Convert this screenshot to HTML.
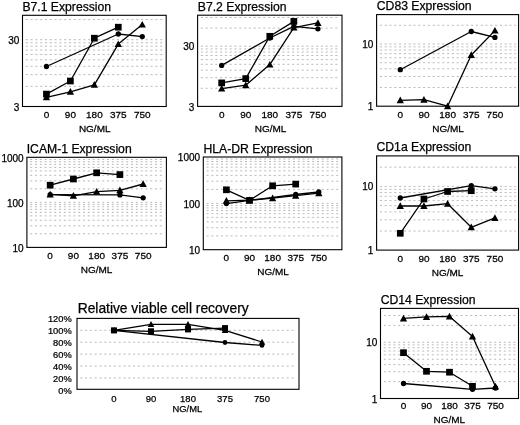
<!DOCTYPE html>
<html><head><meta charset="utf-8"><style>
html,body{margin:0;padding:0;background:#fff;width:520px;height:425px;overflow:hidden}
svg{display:block;filter:blur(0.35px)}
text{font-family:"Liberation Sans", sans-serif;fill:#000;stroke:#000;stroke-width:0.25px}
</style></head><body>
<svg width="520" height="425" viewBox="0 0 520 425">
<rect width="520" height="425" fill="#fff"/>
<line x1="25.80" y1="86.39" x2="163.70" y2="86.39" stroke="#b9b9b9" stroke-width="1.0" stroke-dasharray="2 2.8"/>
<line x1="25.80" y1="74.63" x2="163.70" y2="74.63" stroke="#b9b9b9" stroke-width="1.0" stroke-dasharray="2 2.8"/>
<line x1="25.80" y1="66.28" x2="163.70" y2="66.28" stroke="#b9b9b9" stroke-width="1.0" stroke-dasharray="2 2.8"/>
<line x1="25.80" y1="59.81" x2="163.70" y2="59.81" stroke="#b9b9b9" stroke-width="1.0" stroke-dasharray="2 2.8"/>
<line x1="25.80" y1="54.52" x2="163.70" y2="54.52" stroke="#b9b9b9" stroke-width="1.0" stroke-dasharray="2 2.8"/>
<line x1="25.80" y1="50.05" x2="163.70" y2="50.05" stroke="#b9b9b9" stroke-width="1.0" stroke-dasharray="2 2.8"/>
<line x1="25.80" y1="46.17" x2="163.70" y2="46.17" stroke="#b9b9b9" stroke-width="1.0" stroke-dasharray="2 2.8"/>
<line x1="25.80" y1="42.76" x2="163.70" y2="42.76" stroke="#b9b9b9" stroke-width="1.0" stroke-dasharray="2 2.8"/>
<line x1="25.80" y1="39.70" x2="163.70" y2="39.70" stroke="#b9b9b9" stroke-width="1.0" stroke-dasharray="2 2.8"/>
<line x1="25.80" y1="19.59" x2="163.70" y2="19.59" stroke="#b9b9b9" stroke-width="1.0" stroke-dasharray="2 2.8"/>
<rect x="22.50" y="15.30" width="143.70" height="91.20" fill="none" stroke="#000" stroke-width="1.1"/>
<text x="22.40" y="11.00" font-size="12.2" text-anchor="start">B7.1 Expression</text>
<text x="19.30" y="43.65" font-size="10" text-anchor="end">30</text>
<text x="19.30" y="110.85" font-size="10" text-anchor="end">3</text>
<text transform="translate(46.45 117.60) scale(1.02 1)" font-size="9.8" text-anchor="middle">0</text>
<text transform="translate(70.40 117.60) scale(1.02 1)" font-size="9.8" text-anchor="middle">90</text>
<text transform="translate(94.35 117.60) scale(1.02 1)" font-size="9.8" text-anchor="middle">180</text>
<text transform="translate(118.30 117.60) scale(1.02 1)" font-size="9.8" text-anchor="middle">375</text>
<text transform="translate(142.25 117.60) scale(1.02 1)" font-size="9.8" text-anchor="middle">750</text>
<text transform="translate(94.70 131.80) scale(1.03 1)" font-size="9.7" text-anchor="middle">NG/ML</text>
<polyline points="46.45,66.50 118.30,34.00 142.25,36.60" fill="none" stroke="#000" stroke-width="1.3" stroke-linejoin="round"/>
<polyline points="46.45,94.10 70.40,81.00 94.35,38.20 118.30,27.20" fill="none" stroke="#000" stroke-width="1.3" stroke-linejoin="round"/>
<polyline points="46.45,97.30 70.40,91.80 94.35,84.80 118.30,44.10 142.25,24.60" fill="none" stroke="#000" stroke-width="1.3" stroke-linejoin="round"/>
<circle cx="46.45" cy="66.50" r="2.65" fill="#000"/>
<circle cx="118.30" cy="34.00" r="2.65" fill="#000"/>
<circle cx="142.25" cy="36.60" r="2.65" fill="#000"/>
<rect x="43.10" y="90.75" width="6.70" height="6.70" fill="#000"/>
<rect x="67.05" y="77.65" width="6.70" height="6.70" fill="#000"/>
<rect x="91.00" y="34.85" width="6.70" height="6.70" fill="#000"/>
<rect x="114.95" y="23.85" width="6.70" height="6.70" fill="#000"/>
<polygon points="46.45,93.61 50.10,100.31 42.80,100.31" fill="#000"/>
<polygon points="70.40,88.11 74.05,94.81 66.75,94.81" fill="#000"/>
<polygon points="94.35,81.11 98.00,87.81 90.70,87.81" fill="#000"/>
<polygon points="118.30,40.41 121.95,47.12 114.65,47.12" fill="#000"/>
<polygon points="142.25,20.91 145.90,27.62 138.60,27.62" fill="#000"/>
<line x1="200.90" y1="88.28" x2="339.50" y2="88.28" stroke="#b9b9b9" stroke-width="1.0" stroke-dasharray="2 2.8"/>
<line x1="200.90" y1="77.68" x2="339.50" y2="77.68" stroke="#b9b9b9" stroke-width="1.0" stroke-dasharray="2 2.8"/>
<line x1="200.90" y1="70.16" x2="339.50" y2="70.16" stroke="#b9b9b9" stroke-width="1.0" stroke-dasharray="2 2.8"/>
<line x1="200.90" y1="64.32" x2="339.50" y2="64.32" stroke="#b9b9b9" stroke-width="1.0" stroke-dasharray="2 2.8"/>
<line x1="200.90" y1="59.56" x2="339.50" y2="59.56" stroke="#b9b9b9" stroke-width="1.0" stroke-dasharray="2 2.8"/>
<line x1="200.90" y1="55.53" x2="339.50" y2="55.53" stroke="#b9b9b9" stroke-width="1.0" stroke-dasharray="2 2.8"/>
<line x1="200.90" y1="52.03" x2="339.50" y2="52.03" stroke="#b9b9b9" stroke-width="1.0" stroke-dasharray="2 2.8"/>
<line x1="200.90" y1="48.95" x2="339.50" y2="48.95" stroke="#b9b9b9" stroke-width="1.0" stroke-dasharray="2 2.8"/>
<line x1="200.90" y1="46.20" x2="339.50" y2="46.20" stroke="#b9b9b9" stroke-width="1.0" stroke-dasharray="2 2.8"/>
<line x1="200.90" y1="28.08" x2="339.50" y2="28.08" stroke="#b9b9b9" stroke-width="1.0" stroke-dasharray="2 2.8"/>
<line x1="200.90" y1="17.48" x2="339.50" y2="17.48" stroke="#b9b9b9" stroke-width="1.0" stroke-dasharray="2 2.8"/>
<rect x="197.60" y="15.20" width="144.40" height="91.20" fill="none" stroke="#000" stroke-width="1.1"/>
<text x="197.80" y="11.00" font-size="12.2" text-anchor="start">B7.2 Expression</text>
<text x="194.40" y="50.25" font-size="10" text-anchor="end">30</text>
<text x="194.40" y="110.85" font-size="10" text-anchor="end">3</text>
<text transform="translate(221.67 117.60) scale(1.02 1)" font-size="9.8" text-anchor="middle">0</text>
<text transform="translate(245.73 117.60) scale(1.02 1)" font-size="9.8" text-anchor="middle">90</text>
<text transform="translate(269.80 117.60) scale(1.02 1)" font-size="9.8" text-anchor="middle">180</text>
<text transform="translate(293.87 117.60) scale(1.02 1)" font-size="9.8" text-anchor="middle">375</text>
<text transform="translate(317.93 117.60) scale(1.02 1)" font-size="9.8" text-anchor="middle">750</text>
<text transform="translate(270.50 131.80) scale(1.03 1)" font-size="9.7" text-anchor="middle">NG/ML</text>
<polyline points="221.67,65.40 269.80,38.00 293.87,26.30 317.93,28.80" fill="none" stroke="#000" stroke-width="1.3" stroke-linejoin="round"/>
<polyline points="221.67,82.90 245.73,78.60 269.80,36.30 293.87,21.40" fill="none" stroke="#000" stroke-width="1.3" stroke-linejoin="round"/>
<polyline points="221.67,88.60 245.73,85.20 269.80,64.60 293.87,27.60 317.93,22.90" fill="none" stroke="#000" stroke-width="1.3" stroke-linejoin="round"/>
<circle cx="221.67" cy="65.40" r="2.65" fill="#000"/>
<circle cx="269.80" cy="38.00" r="2.65" fill="#000"/>
<circle cx="293.87" cy="26.30" r="2.65" fill="#000"/>
<circle cx="317.93" cy="28.80" r="2.65" fill="#000"/>
<rect x="218.32" y="79.55" width="6.70" height="6.70" fill="#000"/>
<rect x="242.38" y="75.25" width="6.70" height="6.70" fill="#000"/>
<rect x="266.45" y="32.95" width="6.70" height="6.70" fill="#000"/>
<rect x="290.52" y="18.05" width="6.70" height="6.70" fill="#000"/>
<polygon points="221.67,84.91 225.32,91.61 218.02,91.61" fill="#000"/>
<polygon points="245.73,81.52 249.38,88.22 242.08,88.22" fill="#000"/>
<polygon points="269.80,60.91 273.45,67.61 266.15,67.61" fill="#000"/>
<polygon points="293.87,23.91 297.52,30.62 290.22,30.62" fill="#000"/>
<polygon points="317.93,19.21 321.58,25.91 314.28,25.91" fill="#000"/>
<line x1="379.90" y1="87.48" x2="516.10" y2="87.48" stroke="#b9b9b9" stroke-width="1.0" stroke-dasharray="2 2.8"/>
<line x1="379.90" y1="76.52" x2="516.10" y2="76.52" stroke="#b9b9b9" stroke-width="1.0" stroke-dasharray="2 2.8"/>
<line x1="379.90" y1="68.75" x2="516.10" y2="68.75" stroke="#b9b9b9" stroke-width="1.0" stroke-dasharray="2 2.8"/>
<line x1="379.90" y1="62.72" x2="516.10" y2="62.72" stroke="#b9b9b9" stroke-width="1.0" stroke-dasharray="2 2.8"/>
<line x1="379.90" y1="57.80" x2="516.10" y2="57.80" stroke="#b9b9b9" stroke-width="1.0" stroke-dasharray="2 2.8"/>
<line x1="379.90" y1="53.63" x2="516.10" y2="53.63" stroke="#b9b9b9" stroke-width="1.0" stroke-dasharray="2 2.8"/>
<line x1="379.90" y1="50.03" x2="516.10" y2="50.03" stroke="#b9b9b9" stroke-width="1.0" stroke-dasharray="2 2.8"/>
<line x1="379.90" y1="46.85" x2="516.10" y2="46.85" stroke="#b9b9b9" stroke-width="1.0" stroke-dasharray="2 2.8"/>
<line x1="379.90" y1="44.00" x2="516.10" y2="44.00" stroke="#b9b9b9" stroke-width="1.0" stroke-dasharray="2 2.8"/>
<line x1="379.90" y1="25.28" x2="516.10" y2="25.28" stroke="#b9b9b9" stroke-width="1.0" stroke-dasharray="2 2.8"/>
<rect x="376.60" y="14.60" width="142.00" height="91.60" fill="none" stroke="#000" stroke-width="1.1"/>
<text x="376.80" y="10.00" font-size="12.2" text-anchor="start">CD83 Expression</text>
<text x="373.40" y="47.85" font-size="10" text-anchor="end">10</text>
<text x="373.40" y="110.25" font-size="10" text-anchor="end">1</text>
<text transform="translate(400.27 117.60) scale(1.02 1)" font-size="9.8" text-anchor="middle">0</text>
<text transform="translate(423.93 117.60) scale(1.02 1)" font-size="9.8" text-anchor="middle">90</text>
<text transform="translate(447.60 117.60) scale(1.02 1)" font-size="9.8" text-anchor="middle">180</text>
<text transform="translate(471.27 117.60) scale(1.02 1)" font-size="9.8" text-anchor="middle">375</text>
<text transform="translate(494.93 117.60) scale(1.02 1)" font-size="9.8" text-anchor="middle">750</text>
<text transform="translate(448.00 131.80) scale(1.03 1)" font-size="9.7" text-anchor="middle">NG/ML</text>
<polyline points="400.27,69.70 471.27,31.50 494.93,37.40" fill="none" stroke="#000" stroke-width="1.3" stroke-linejoin="round"/>
<polyline points="400.27,100.30 423.93,99.70 447.60,106.20 471.27,55.00 494.93,30.60" fill="none" stroke="#000" stroke-width="1.3" stroke-linejoin="round"/>
<circle cx="400.27" cy="69.70" r="2.65" fill="#000"/>
<circle cx="471.27" cy="31.50" r="2.65" fill="#000"/>
<circle cx="494.93" cy="37.40" r="2.65" fill="#000"/>
<polygon points="400.27,96.61 403.92,103.31 396.62,103.31" fill="#000"/>
<polygon points="423.93,96.02 427.58,102.72 420.28,102.72" fill="#000"/>
<polygon points="447.60,102.52 451.25,109.22 443.95,109.22" fill="#000"/>
<polygon points="471.27,51.31 474.92,58.02 467.62,58.02" fill="#000"/>
<polygon points="494.93,26.91 498.58,33.62 491.28,33.62" fill="#000"/>
<line x1="30.20" y1="233.77" x2="163.90" y2="233.77" stroke="#b9b9b9" stroke-width="1.0" stroke-dasharray="2 2.8"/>
<line x1="30.20" y1="225.85" x2="163.90" y2="225.85" stroke="#b9b9b9" stroke-width="1.0" stroke-dasharray="2 2.8"/>
<line x1="30.20" y1="220.24" x2="163.90" y2="220.24" stroke="#b9b9b9" stroke-width="1.0" stroke-dasharray="2 2.8"/>
<line x1="30.20" y1="215.88" x2="163.90" y2="215.88" stroke="#b9b9b9" stroke-width="1.0" stroke-dasharray="2 2.8"/>
<line x1="30.20" y1="212.32" x2="163.90" y2="212.32" stroke="#b9b9b9" stroke-width="1.0" stroke-dasharray="2 2.8"/>
<line x1="30.20" y1="209.31" x2="163.90" y2="209.31" stroke="#b9b9b9" stroke-width="1.0" stroke-dasharray="2 2.8"/>
<line x1="30.20" y1="206.71" x2="163.90" y2="206.71" stroke="#b9b9b9" stroke-width="1.0" stroke-dasharray="2 2.8"/>
<line x1="30.20" y1="204.41" x2="163.90" y2="204.41" stroke="#b9b9b9" stroke-width="1.0" stroke-dasharray="2 2.8"/>
<line x1="30.20" y1="202.35" x2="163.90" y2="202.35" stroke="#b9b9b9" stroke-width="1.0" stroke-dasharray="2 2.8"/>
<line x1="30.20" y1="188.82" x2="163.90" y2="188.82" stroke="#b9b9b9" stroke-width="1.0" stroke-dasharray="2 2.8"/>
<line x1="30.20" y1="180.90" x2="163.90" y2="180.90" stroke="#b9b9b9" stroke-width="1.0" stroke-dasharray="2 2.8"/>
<line x1="30.20" y1="175.29" x2="163.90" y2="175.29" stroke="#b9b9b9" stroke-width="1.0" stroke-dasharray="2 2.8"/>
<line x1="30.20" y1="170.93" x2="163.90" y2="170.93" stroke="#b9b9b9" stroke-width="1.0" stroke-dasharray="2 2.8"/>
<line x1="30.20" y1="167.37" x2="163.90" y2="167.37" stroke="#b9b9b9" stroke-width="1.0" stroke-dasharray="2 2.8"/>
<line x1="30.20" y1="164.36" x2="163.90" y2="164.36" stroke="#b9b9b9" stroke-width="1.0" stroke-dasharray="2 2.8"/>
<line x1="30.20" y1="161.76" x2="163.90" y2="161.76" stroke="#b9b9b9" stroke-width="1.0" stroke-dasharray="2 2.8"/>
<line x1="30.20" y1="159.46" x2="163.90" y2="159.46" stroke="#b9b9b9" stroke-width="1.0" stroke-dasharray="2 2.8"/>
<rect x="26.90" y="157.30" width="139.50" height="90.10" fill="none" stroke="#000" stroke-width="1.1"/>
<text x="26.70" y="153.00" font-size="12.2" text-anchor="start">ICAM-1 Expression</text>
<text x="23.70" y="162.35" font-size="10" text-anchor="end">1000</text>
<text x="23.70" y="207.05" font-size="10" text-anchor="end">100</text>
<text x="23.70" y="251.75" font-size="10" text-anchor="end">10</text>
<text transform="translate(50.15 259.30) scale(1.02 1)" font-size="9.8" text-anchor="middle">0</text>
<text transform="translate(73.40 259.30) scale(1.02 1)" font-size="9.8" text-anchor="middle">90</text>
<text transform="translate(96.65 259.30) scale(1.02 1)" font-size="9.8" text-anchor="middle">180</text>
<text transform="translate(119.90 259.30) scale(1.02 1)" font-size="9.8" text-anchor="middle">375</text>
<text transform="translate(143.15 259.30) scale(1.02 1)" font-size="9.8" text-anchor="middle">750</text>
<text transform="translate(96.60 272.80) scale(1.03 1)" font-size="9.7" text-anchor="middle">NG/ML</text>
<polyline points="50.15,194.60 119.90,194.90 143.15,197.80" fill="none" stroke="#000" stroke-width="1.3" stroke-linejoin="round"/>
<polyline points="50.15,185.20 73.40,179.00 96.65,172.80 119.90,174.60" fill="none" stroke="#000" stroke-width="1.3" stroke-linejoin="round"/>
<polyline points="50.15,194.40 73.40,195.80 96.65,191.60 119.90,190.30 143.15,184.00" fill="none" stroke="#000" stroke-width="1.3" stroke-linejoin="round"/>
<circle cx="50.15" cy="194.60" r="2.65" fill="#000"/>
<circle cx="119.90" cy="194.90" r="2.65" fill="#000"/>
<circle cx="143.15" cy="197.80" r="2.65" fill="#000"/>
<rect x="46.80" y="181.85" width="6.70" height="6.70" fill="#000"/>
<rect x="70.05" y="175.65" width="6.70" height="6.70" fill="#000"/>
<rect x="93.30" y="169.45" width="6.70" height="6.70" fill="#000"/>
<rect x="116.55" y="171.25" width="6.70" height="6.70" fill="#000"/>
<polygon points="50.15,190.72 53.80,197.41 46.50,197.41" fill="#000"/>
<polygon points="73.40,192.12 77.05,198.81 69.75,198.81" fill="#000"/>
<polygon points="96.65,187.91 100.30,194.61 93.00,194.61" fill="#000"/>
<polygon points="119.90,186.62 123.55,193.31 116.25,193.31" fill="#000"/>
<polygon points="143.15,180.31 146.80,187.01 139.50,187.01" fill="#000"/>
<line x1="206.60" y1="235.90" x2="339.40" y2="235.90" stroke="#b9b9b9" stroke-width="1.0" stroke-dasharray="2 2.8"/>
<line x1="206.60" y1="227.71" x2="339.40" y2="227.71" stroke="#b9b9b9" stroke-width="1.0" stroke-dasharray="2 2.8"/>
<line x1="206.60" y1="221.90" x2="339.40" y2="221.90" stroke="#b9b9b9" stroke-width="1.0" stroke-dasharray="2 2.8"/>
<line x1="206.60" y1="217.40" x2="339.40" y2="217.40" stroke="#b9b9b9" stroke-width="1.0" stroke-dasharray="2 2.8"/>
<line x1="206.60" y1="213.72" x2="339.40" y2="213.72" stroke="#b9b9b9" stroke-width="1.0" stroke-dasharray="2 2.8"/>
<line x1="206.60" y1="210.60" x2="339.40" y2="210.60" stroke="#b9b9b9" stroke-width="1.0" stroke-dasharray="2 2.8"/>
<line x1="206.60" y1="207.91" x2="339.40" y2="207.91" stroke="#b9b9b9" stroke-width="1.0" stroke-dasharray="2 2.8"/>
<line x1="206.60" y1="205.53" x2="339.40" y2="205.53" stroke="#b9b9b9" stroke-width="1.0" stroke-dasharray="2 2.8"/>
<line x1="206.60" y1="203.40" x2="339.40" y2="203.40" stroke="#b9b9b9" stroke-width="1.0" stroke-dasharray="2 2.8"/>
<line x1="206.60" y1="189.40" x2="339.40" y2="189.40" stroke="#b9b9b9" stroke-width="1.0" stroke-dasharray="2 2.8"/>
<line x1="206.60" y1="181.21" x2="339.40" y2="181.21" stroke="#b9b9b9" stroke-width="1.0" stroke-dasharray="2 2.8"/>
<line x1="206.60" y1="175.40" x2="339.40" y2="175.40" stroke="#b9b9b9" stroke-width="1.0" stroke-dasharray="2 2.8"/>
<line x1="206.60" y1="170.90" x2="339.40" y2="170.90" stroke="#b9b9b9" stroke-width="1.0" stroke-dasharray="2 2.8"/>
<line x1="206.60" y1="167.22" x2="339.40" y2="167.22" stroke="#b9b9b9" stroke-width="1.0" stroke-dasharray="2 2.8"/>
<line x1="206.60" y1="164.10" x2="339.40" y2="164.10" stroke="#b9b9b9" stroke-width="1.0" stroke-dasharray="2 2.8"/>
<line x1="206.60" y1="161.41" x2="339.40" y2="161.41" stroke="#b9b9b9" stroke-width="1.0" stroke-dasharray="2 2.8"/>
<line x1="206.60" y1="159.03" x2="339.40" y2="159.03" stroke="#b9b9b9" stroke-width="1.0" stroke-dasharray="2 2.8"/>
<rect x="203.30" y="157.00" width="138.60" height="92.70" fill="none" stroke="#000" stroke-width="1.1"/>
<text x="203.50" y="152.90" font-size="12.2" text-anchor="start">HLA-DR Expression</text>
<text x="200.10" y="161.45" font-size="10" text-anchor="end">1000</text>
<text x="200.10" y="207.65" font-size="10" text-anchor="end">100</text>
<text x="200.10" y="253.55" font-size="10" text-anchor="end">10</text>
<text transform="translate(226.40 261.00) scale(1.02 1)" font-size="9.8" text-anchor="middle">0</text>
<text transform="translate(249.50 261.00) scale(1.02 1)" font-size="9.8" text-anchor="middle">90</text>
<text transform="translate(272.60 261.00) scale(1.02 1)" font-size="9.8" text-anchor="middle">180</text>
<text transform="translate(295.70 261.00) scale(1.02 1)" font-size="9.8" text-anchor="middle">375</text>
<text transform="translate(318.80 261.00) scale(1.02 1)" font-size="9.8" text-anchor="middle">750</text>
<text transform="translate(273.00 274.50) scale(1.03 1)" font-size="9.7" text-anchor="middle">NG/ML</text>
<polyline points="226.40,203.60 249.50,200.40 295.70,194.50 318.80,192.00" fill="none" stroke="#000" stroke-width="1.3" stroke-linejoin="round"/>
<polyline points="226.40,189.80 249.50,200.40 272.60,185.80 295.70,184.10" fill="none" stroke="#000" stroke-width="1.3" stroke-linejoin="round"/>
<polyline points="226.40,200.80 249.50,200.20 272.60,198.20 295.70,195.70 318.80,193.20" fill="none" stroke="#000" stroke-width="1.3" stroke-linejoin="round"/>
<circle cx="226.40" cy="203.60" r="2.65" fill="#000"/>
<circle cx="249.50" cy="200.40" r="2.65" fill="#000"/>
<circle cx="295.70" cy="194.50" r="2.65" fill="#000"/>
<circle cx="318.80" cy="192.00" r="2.65" fill="#000"/>
<rect x="223.05" y="186.45" width="6.70" height="6.70" fill="#000"/>
<rect x="246.15" y="197.05" width="6.70" height="6.70" fill="#000"/>
<rect x="269.25" y="182.45" width="6.70" height="6.70" fill="#000"/>
<rect x="292.35" y="180.75" width="6.70" height="6.70" fill="#000"/>
<polygon points="226.40,197.12 230.05,203.81 222.75,203.81" fill="#000"/>
<polygon points="249.50,196.51 253.15,203.21 245.85,203.21" fill="#000"/>
<polygon points="272.60,194.51 276.25,201.21 268.95,201.21" fill="#000"/>
<polygon points="295.70,192.01 299.35,198.71 292.05,198.71" fill="#000"/>
<polygon points="318.80,189.51 322.45,196.21 315.15,196.21" fill="#000"/>
<line x1="379.90" y1="231.06" x2="516.10" y2="231.06" stroke="#b9b9b9" stroke-width="1.0" stroke-dasharray="2 2.8"/>
<line x1="379.90" y1="219.81" x2="516.10" y2="219.81" stroke="#b9b9b9" stroke-width="1.0" stroke-dasharray="2 2.8"/>
<line x1="379.90" y1="211.83" x2="516.10" y2="211.83" stroke="#b9b9b9" stroke-width="1.0" stroke-dasharray="2 2.8"/>
<line x1="379.90" y1="205.64" x2="516.10" y2="205.64" stroke="#b9b9b9" stroke-width="1.0" stroke-dasharray="2 2.8"/>
<line x1="379.90" y1="200.58" x2="516.10" y2="200.58" stroke="#b9b9b9" stroke-width="1.0" stroke-dasharray="2 2.8"/>
<line x1="379.90" y1="196.30" x2="516.10" y2="196.30" stroke="#b9b9b9" stroke-width="1.0" stroke-dasharray="2 2.8"/>
<line x1="379.90" y1="192.59" x2="516.10" y2="192.59" stroke="#b9b9b9" stroke-width="1.0" stroke-dasharray="2 2.8"/>
<line x1="379.90" y1="189.32" x2="516.10" y2="189.32" stroke="#b9b9b9" stroke-width="1.0" stroke-dasharray="2 2.8"/>
<line x1="379.90" y1="186.40" x2="516.10" y2="186.40" stroke="#b9b9b9" stroke-width="1.0" stroke-dasharray="2 2.8"/>
<line x1="379.90" y1="167.16" x2="516.10" y2="167.16" stroke="#b9b9b9" stroke-width="1.0" stroke-dasharray="2 2.8"/>
<rect x="376.60" y="155.90" width="142.00" height="94.20" fill="none" stroke="#000" stroke-width="1.1"/>
<text x="376.50" y="151.30" font-size="12.2" text-anchor="start">CD1a Expression</text>
<text x="373.40" y="190.25" font-size="10" text-anchor="end">10</text>
<text x="373.40" y="254.25" font-size="10" text-anchor="end">1</text>
<text transform="translate(400.27 261.80) scale(1.02 1)" font-size="9.8" text-anchor="middle">0</text>
<text transform="translate(423.93 261.80) scale(1.02 1)" font-size="9.8" text-anchor="middle">90</text>
<text transform="translate(447.60 261.80) scale(1.02 1)" font-size="9.8" text-anchor="middle">180</text>
<text transform="translate(471.27 261.80) scale(1.02 1)" font-size="9.8" text-anchor="middle">375</text>
<text transform="translate(494.93 261.80) scale(1.02 1)" font-size="9.8" text-anchor="middle">750</text>
<text transform="translate(447.60 276.40) scale(1.03 1)" font-size="9.7" text-anchor="middle">NG/ML</text>
<polyline points="400.27,198.00 471.27,185.60 494.93,188.80" fill="none" stroke="#000" stroke-width="1.3" stroke-linejoin="round"/>
<polyline points="400.27,233.30 423.93,199.00 447.60,191.50 471.27,190.70" fill="none" stroke="#000" stroke-width="1.3" stroke-linejoin="round"/>
<polyline points="400.27,206.00 423.93,206.00 447.60,203.70 471.27,227.30 494.93,217.90" fill="none" stroke="#000" stroke-width="1.3" stroke-linejoin="round"/>
<circle cx="400.27" cy="198.00" r="2.65" fill="#000"/>
<circle cx="471.27" cy="185.60" r="2.65" fill="#000"/>
<circle cx="494.93" cy="188.80" r="2.65" fill="#000"/>
<rect x="396.92" y="229.95" width="6.70" height="6.70" fill="#000"/>
<rect x="420.58" y="195.65" width="6.70" height="6.70" fill="#000"/>
<rect x="444.25" y="188.15" width="6.70" height="6.70" fill="#000"/>
<rect x="467.92" y="187.35" width="6.70" height="6.70" fill="#000"/>
<polygon points="400.27,202.31 403.92,209.01 396.62,209.01" fill="#000"/>
<polygon points="423.93,202.31 427.58,209.01 420.28,209.01" fill="#000"/>
<polygon points="447.60,200.01 451.25,206.71 443.95,206.71" fill="#000"/>
<polygon points="471.27,223.62 474.92,230.31 467.62,230.31" fill="#000"/>
<polygon points="494.93,214.22 498.58,220.91 491.28,220.91" fill="#000"/>
<line x1="80.30" y1="377.98" x2="296.50" y2="377.98" stroke="#b9b9b9" stroke-width="1.0" stroke-dasharray="2 2.8"/>
<line x1="80.30" y1="366.06" x2="296.50" y2="366.06" stroke="#b9b9b9" stroke-width="1.0" stroke-dasharray="2 2.8"/>
<line x1="80.30" y1="354.14" x2="296.50" y2="354.14" stroke="#b9b9b9" stroke-width="1.0" stroke-dasharray="2 2.8"/>
<line x1="80.30" y1="342.22" x2="296.50" y2="342.22" stroke="#b9b9b9" stroke-width="1.0" stroke-dasharray="2 2.8"/>
<line x1="80.30" y1="330.30" x2="296.50" y2="330.30" stroke="#b9b9b9" stroke-width="1.0" stroke-dasharray="2 2.8"/>
<rect x="77.00" y="318.40" width="222.00" height="70.90" fill="none" stroke="#000" stroke-width="1.1"/>
<text x="77.70" y="313.00" font-size="13.8" text-anchor="start">Relative viable cell recovery</text>
<text transform="translate(71.70 322.29) scale(0.97 1)" font-size="9.6" text-anchor="end">120%</text>
<text transform="translate(71.70 334.21) scale(0.97 1)" font-size="9.6" text-anchor="end">100%</text>
<text transform="translate(71.70 346.13) scale(0.97 1)" font-size="9.6" text-anchor="end">80%</text>
<text transform="translate(71.70 358.05) scale(0.97 1)" font-size="9.6" text-anchor="end">60%</text>
<text transform="translate(71.70 369.97) scale(0.97 1)" font-size="9.6" text-anchor="end">40%</text>
<text transform="translate(71.70 381.89) scale(0.97 1)" font-size="9.6" text-anchor="end">20%</text>
<text transform="translate(71.70 393.81) scale(0.97 1)" font-size="9.6" text-anchor="end">0%</text>
<text x="114.00" y="401.70" font-size="9.5" text-anchor="middle">0</text>
<text x="151.00" y="401.70" font-size="9.5" text-anchor="middle">90</text>
<text x="188.00" y="401.70" font-size="9.5" text-anchor="middle">180</text>
<text x="225.00" y="401.70" font-size="9.5" text-anchor="middle">375</text>
<text x="262.00" y="401.70" font-size="9.5" text-anchor="middle">750</text>
<text x="187.40" y="412.20" font-size="9.4" text-anchor="middle">NG/ML</text>
<polyline points="114.00,330.40 225.00,342.50 262.00,345.40" fill="none" stroke="#000" stroke-width="1.3" stroke-linejoin="round"/>
<polyline points="114.00,330.40 151.00,331.30 188.00,329.40 225.00,328.10" fill="none" stroke="#000" stroke-width="1.3" stroke-linejoin="round"/>
<polyline points="114.00,330.40 151.00,324.30 188.00,324.30 225.00,330.40 262.00,342.00" fill="none" stroke="#000" stroke-width="1.3" stroke-linejoin="round"/>
<circle cx="114.00" cy="330.40" r="2.38" fill="#000"/>
<circle cx="225.00" cy="342.50" r="2.38" fill="#000"/>
<circle cx="262.00" cy="345.40" r="2.38" fill="#000"/>
<rect x="110.98" y="327.38" width="6.03" height="6.03" fill="#000"/>
<rect x="147.99" y="328.29" width="6.03" height="6.03" fill="#000"/>
<rect x="184.99" y="326.38" width="6.03" height="6.03" fill="#000"/>
<rect x="221.99" y="325.09" width="6.03" height="6.03" fill="#000"/>
<polygon points="114.00,327.08 117.28,333.11 110.72,333.11" fill="#000"/>
<polygon points="151.00,320.98 154.28,327.01 147.72,327.01" fill="#000"/>
<polygon points="188.00,320.98 191.28,327.01 184.72,327.01" fill="#000"/>
<polygon points="225.00,327.08 228.28,333.11 221.72,333.11" fill="#000"/>
<polygon points="262.00,338.68 265.29,344.71 258.71,344.71" fill="#000"/>
<line x1="383.80" y1="381.58" x2="516.00" y2="381.58" stroke="#b9b9b9" stroke-width="1.0" stroke-dasharray="2 2.8"/>
<line x1="383.80" y1="371.69" x2="516.00" y2="371.69" stroke="#b9b9b9" stroke-width="1.0" stroke-dasharray="2 2.8"/>
<line x1="383.80" y1="364.66" x2="516.00" y2="364.66" stroke="#b9b9b9" stroke-width="1.0" stroke-dasharray="2 2.8"/>
<line x1="383.80" y1="359.22" x2="516.00" y2="359.22" stroke="#b9b9b9" stroke-width="1.0" stroke-dasharray="2 2.8"/>
<line x1="383.80" y1="354.77" x2="516.00" y2="354.77" stroke="#b9b9b9" stroke-width="1.0" stroke-dasharray="2 2.8"/>
<line x1="383.80" y1="351.01" x2="516.00" y2="351.01" stroke="#b9b9b9" stroke-width="1.0" stroke-dasharray="2 2.8"/>
<line x1="383.80" y1="347.75" x2="516.00" y2="347.75" stroke="#b9b9b9" stroke-width="1.0" stroke-dasharray="2 2.8"/>
<line x1="383.80" y1="344.87" x2="516.00" y2="344.87" stroke="#b9b9b9" stroke-width="1.0" stroke-dasharray="2 2.8"/>
<line x1="383.80" y1="342.30" x2="516.00" y2="342.30" stroke="#b9b9b9" stroke-width="1.0" stroke-dasharray="2 2.8"/>
<line x1="383.80" y1="325.38" x2="516.00" y2="325.38" stroke="#b9b9b9" stroke-width="1.0" stroke-dasharray="2 2.8"/>
<line x1="383.80" y1="315.49" x2="516.00" y2="315.49" stroke="#b9b9b9" stroke-width="1.0" stroke-dasharray="2 2.8"/>
<rect x="380.50" y="308.40" width="138.00" height="90.10" fill="none" stroke="#000" stroke-width="1.1"/>
<text x="380.70" y="304.40" font-size="12.2" text-anchor="start">CD14 Expression</text>
<text x="377.30" y="345.85" font-size="10" text-anchor="end">10</text>
<text x="377.30" y="402.85" font-size="10" text-anchor="end">1</text>
<text transform="translate(403.50 409.30) scale(1.02 1)" font-size="9.8" text-anchor="middle">0</text>
<text transform="translate(426.50 409.30) scale(1.02 1)" font-size="9.8" text-anchor="middle">90</text>
<text transform="translate(449.50 409.30) scale(1.02 1)" font-size="9.8" text-anchor="middle">180</text>
<text transform="translate(472.50 409.30) scale(1.02 1)" font-size="9.8" text-anchor="middle">375</text>
<text transform="translate(495.50 409.30) scale(1.02 1)" font-size="9.8" text-anchor="middle">750</text>
<text transform="translate(449.30 422.90) scale(1.03 1)" font-size="9.7" text-anchor="middle">NG/ML</text>
<polyline points="403.50,383.50 472.50,389.30 495.50,388.00" fill="none" stroke="#000" stroke-width="1.3" stroke-linejoin="round"/>
<polyline points="403.50,352.70 426.50,371.30 449.50,372.20 472.50,386.30" fill="none" stroke="#000" stroke-width="1.3" stroke-linejoin="round"/>
<polyline points="403.50,318.40 426.50,316.90 449.50,316.40 472.50,336.40 495.50,386.40" fill="none" stroke="#000" stroke-width="1.3" stroke-linejoin="round"/>
<circle cx="403.50" cy="383.50" r="2.65" fill="#000"/>
<circle cx="472.50" cy="389.30" r="2.65" fill="#000"/>
<circle cx="495.50" cy="388.00" r="2.65" fill="#000"/>
<rect x="400.15" y="349.35" width="6.70" height="6.70" fill="#000"/>
<rect x="423.15" y="367.95" width="6.70" height="6.70" fill="#000"/>
<rect x="446.15" y="368.85" width="6.70" height="6.70" fill="#000"/>
<rect x="469.15" y="382.95" width="6.70" height="6.70" fill="#000"/>
<polygon points="403.50,314.71 407.15,321.41 399.85,321.41" fill="#000"/>
<polygon points="426.50,313.21 430.15,319.91 422.85,319.91" fill="#000"/>
<polygon points="449.50,312.71 453.15,319.41 445.85,319.41" fill="#000"/>
<polygon points="472.50,332.71 476.15,339.41 468.85,339.41" fill="#000"/>
<polygon points="495.50,382.71 499.15,389.41 491.85,389.41" fill="#000"/>
</svg>
</body></html>
